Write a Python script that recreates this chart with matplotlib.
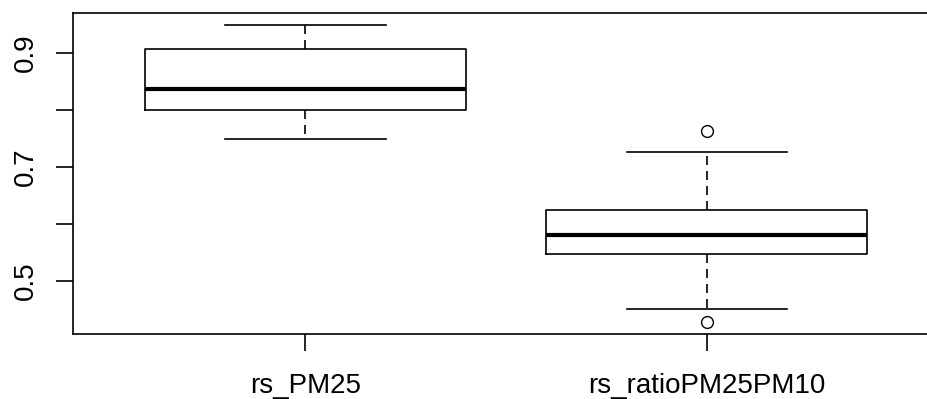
import matplotlib
matplotlib.use("Agg")
import matplotlib.pyplot as plt

# Data
categories = ["rs_PM25", "rs_ratioPM25PM10"]
whisker_low = [0.750, 0.451]
q1 = [0.800, 0.548]
median = [0.837, 0.581]
q3 = [0.908, 0.625]
whisker_high = [0.949, 0.727]
outliers = [[], [0.763, 0.428]]
yticks = [0.5, 0.6, 0.7, 0.8, 0.9]
yticklabels = ["0.5", "", "0.7", "", "0.9"]

plt.rcParams['font.family'] = ['Liberation Sans', 'DejaVu Sans']

fig = plt.figure(figsize=(9.28, 3.99), dpi=100)
ax = fig.add_axes([72.7/928, (399-334)/399, (939.6-72.7)/928, (334-13.3)/399])

stats = []
for i, name in enumerate(categories):
    stats.append(dict(label=name, whislo=whisker_low[i], q1=q1[i], med=median[i],
                      q3=q3[i], whishi=whisker_high[i], fliers=outliers[i]))

lw = 1.2
ax.bxp(stats, positions=[1, 2], widths=0.8, capwidths=0.4, showfliers=True,
       boxprops=dict(color='black', linewidth=lw),
       medianprops=dict(color='black', linewidth=3.0, solid_capstyle='butt'),
       whiskerprops=dict(color='black', linewidth=lw, linestyle=(0, (5.4, 3.6))),
       capprops=dict(color='black', linewidth=lw),
       flierprops=dict(marker='o', markerfacecolor='none', markeredgecolor='black',
                       markersize=8.5, markeredgewidth=1.0))

allv = whisker_low + whisker_high + [v for o in outliers for v in o]
lo, hi = min(allv), max(allv)
r = hi - lo
ax.set_ylim(lo - 0.04*r, hi + 0.04*r)
ax.set_xlim(0.5 - 0.04*2, 2.5 + 0.04*2)

ax.set_yticks(yticks)
ax.set_yticklabels(yticklabels, rotation=90, va='center', fontsize=20)
ax.set_xticks([1, 2])
ax.set_xticklabels(categories, fontsize=20)
ax.tick_params(axis='both', direction='out', length=12, width=lw, color='black')
ax.tick_params(axis='y', pad=12)
ax.tick_params(axis='x', pad=16)
for s in ax.spines.values():
    s.set_linewidth(lw)
    s.set_color('black')
ax.spines['right'].set_visible(False)

fig.savefig("out.png", dpi=100, facecolor='white')
